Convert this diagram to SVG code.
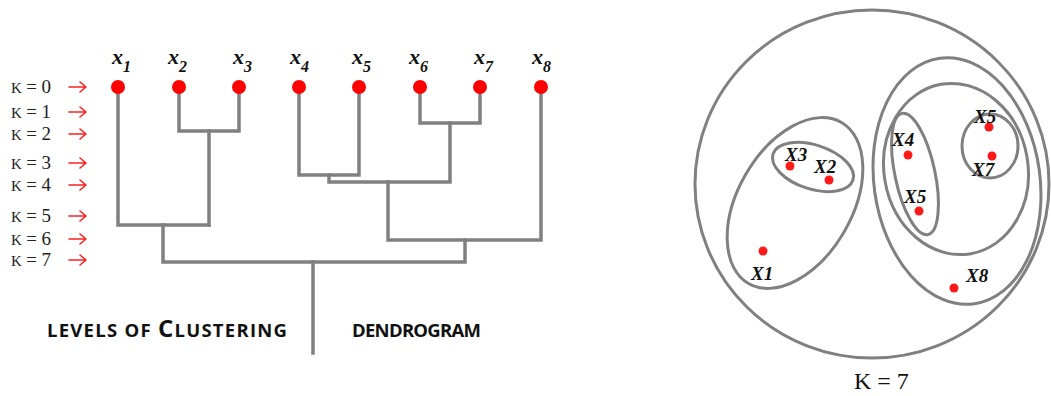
<svg xmlns="http://www.w3.org/2000/svg" width="1051" height="396" viewBox="0 0 1051 396">
<style>
.dot{fill:#ff0000}
.pt{fill:#ff1a1a}
.edge{fill:none;stroke:#808080;stroke-width:3.5;stroke-linejoin:miter;stroke-linecap:square}
.ring{fill:none;stroke:#808080;stroke-width:3}
.leaf{font-family:"Liberation Serif",serif;font-style:italic;font-weight:bold;font-size:22px;fill:#111}
.sub{font-size:16px}
.lvl{font-family:"Liberation Serif",serif;font-size:19px;fill:#222}
.arr{fill:none;stroke:#ff2020;stroke-width:1.6;stroke-linecap:round;stroke-linejoin:round}
.cap{font-family:"Open Sans","Liberation Sans",sans-serif;font-weight:700;font-size:18.5px;fill:#111}
.xl{font-family:"Liberation Serif",serif;font-style:italic;font-weight:bold;font-size:19px;fill:#111}
.k7{font-family:"Liberation Serif",serif;font-size:24px;fill:#111}
</style>
<rect width="1051" height="396" fill="#ffffff"/>

<g id="levels">
  <text class="lvl" x="11" y="93" textLength="40" lengthAdjust="spacing"><tspan font-size="15">K</tspan>=0</text>
  <text class="lvl" x="11" y="118" textLength="40" lengthAdjust="spacing"><tspan font-size="15">K</tspan>=1</text>
  <text class="lvl" x="11" y="140" textLength="40" lengthAdjust="spacing"><tspan font-size="15">K</tspan>=2</text>
  <text class="lvl" x="11" y="169" textLength="40" lengthAdjust="spacing"><tspan font-size="15">K</tspan>=3</text>
  <text class="lvl" x="11" y="191" textLength="40" lengthAdjust="spacing"><tspan font-size="15">K</tspan>=4</text>
  <text class="lvl" x="11" y="222" textLength="40" lengthAdjust="spacing"><tspan font-size="15">K</tspan>=5</text>
  <text class="lvl" x="11" y="245" textLength="40" lengthAdjust="spacing"><tspan font-size="15">K</tspan>=6</text>
  <text class="lvl" x="11" y="266" textLength="40" lengthAdjust="spacing"><tspan font-size="15">K</tspan>=7</text>
  <path class="arr" d="M69 87H86M80 82L86 87L80 92"/>
  <path class="arr" d="M69 112H86M80 107L86 112L80 117"/>
  <path class="arr" d="M69 134H86M80 129L86 134L80 139"/>
  <path class="arr" d="M69 163H86M80 158L86 163L80 168"/>
  <path class="arr" d="M69 185H86M80 180L86 185L80 190"/>
  <path class="arr" d="M69 216H86M80 211L86 216L80 221"/>
  <path class="arr" d="M69 239H86M80 234L86 239L80 244"/>
  <path class="arr" d="M69 260H86M80 255L86 260L80 265"/>
</g>

<g id="connectors">
  <path class="edge" d="M118 87V225H209"/>
  <path class="edge" d="M179 87V131H239V87"/>
  <path class="edge" d="M209 131V225"/>
  <path class="edge" d="M163 225V262H465V240"/>
  <path class="edge" d="M299 87V175H359V87"/>
  <path class="edge" d="M329 175V182H450V123"/>
  <path class="edge" d="M420 87V123H480V87"/>
  <path class="edge" d="M388 182V240H541V87"/>
  <path class="edge" d="M313 262V353"/>
</g>

<g id="leaf-x1"><circle class="dot" cx="118" cy="87" r="7"/><text class="leaf" x="112" y="64">x<tspan class="sub" dy="8">1</tspan></text></g>
<g id="leaf-x2"><circle class="dot" cx="179" cy="87" r="7"/><text class="leaf" x="168" y="64">x<tspan class="sub" dy="8">2</tspan></text></g>
<g id="leaf-x3"><circle class="dot" cx="239" cy="87" r="7"/><text class="leaf" x="233" y="64">x<tspan class="sub" dy="8">3</tspan></text></g>
<g id="leaf-x4"><circle class="dot" cx="299" cy="87" r="7"/><text class="leaf" x="290" y="64">x<tspan class="sub" dy="8">4</tspan></text></g>
<g id="leaf-x5"><circle class="dot" cx="359" cy="87" r="7"/><text class="leaf" x="352" y="64">x<tspan class="sub" dy="8">5</tspan></text></g>
<g id="leaf-x6"><circle class="dot" cx="420" cy="87" r="7"/><text class="leaf" x="409" y="64">x<tspan class="sub" dy="8">6</tspan></text></g>
<g id="leaf-x7"><circle class="dot" cx="480" cy="87" r="7"/><text class="leaf" x="474" y="64">x<tspan class="sub" dy="8">7</tspan></text></g>
<g id="leaf-x8"><circle class="dot" cx="541" cy="87" r="7"/><text class="leaf" x="532" y="64">x<tspan class="sub" dy="8">8</tspan></text></g>

<g id="captions">
  <text class="cap" x="47" y="337" textLength="240" lengthAdjust="spacing">LEVELS OF <tspan font-size="24">C</tspan>LUSTERING</text>
  <text class="cap" x="352" y="337" textLength="129" lengthAdjust="spacing">DENDROGRAM</text>
</g>

<g id="clusters">
  <ellipse class="ring" cx="872" cy="184" rx="177" ry="174"/>
  <ellipse class="ring" cx="795" cy="203" rx="93" ry="57" transform="rotate(-60 795 203)"/>
  <ellipse class="ring" cx="813" cy="167" rx="42" ry="22" transform="rotate(18 813 167)"/>
  <ellipse class="ring" cx="957" cy="181" rx="83" ry="124" transform="rotate(-8 957 181)"/>
  <ellipse class="ring" cx="956" cy="169" rx="72" ry="86" transform="rotate(-10 956 169)"/>
  <ellipse class="ring" cx="915" cy="174" rx="20" ry="62" transform="rotate(-12 915 174)"/>
  <ellipse class="ring" cx="990" cy="146" rx="28" ry="32"/>
</g>

<g id="point-X1"><circle class="pt" cx="763" cy="251" r="4.5"/><text class="xl" x="751" y="280">X1</text></g>
<g id="point-X2"><circle class="pt" cx="829" cy="180" r="4.5"/><text class="xl" x="814" y="173">X2</text></g>
<g id="point-X3"><circle class="pt" cx="790" cy="166" r="4.5"/><text class="xl" x="785" y="161">X3</text></g>
<g id="point-X4"><circle class="pt" cx="908" cy="155" r="4.5"/><text class="xl" x="892" y="146">X4</text></g>
<g id="point-X5"><circle class="pt" cx="919" cy="211" r="4.5"/><text class="xl" x="904" y="203">X5</text></g>
<g id="point-X6"><circle class="pt" cx="989" cy="127" r="4.5"/><text class="xl" x="974" y="123">X5</text></g>
<g id="point-X7"><circle class="pt" cx="992" cy="156" r="4.5"/><text class="xl" x="972" y="176">X7</text></g>
<g id="point-X8"><circle class="pt" cx="954" cy="288" r="4.5"/><text class="xl" x="966" y="282">X8</text></g>

<text class="k7" x="854" y="389">K = 7</text>
</svg>
